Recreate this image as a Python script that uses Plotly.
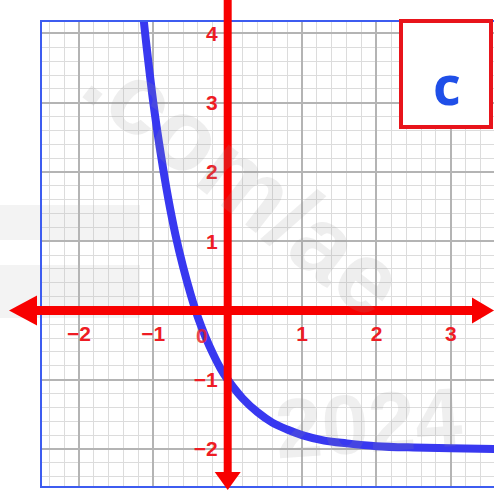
import plotly.graph_objects as go

# values
CURVE_X = [-1.2, -1.1, -1.0, -0.9, -0.8, -0.7, -0.6, -0.5, -0.4, -0.3, -0.2, -0.1, 0.0,
           0.2, 0.4, 0.6, 0.8, 1.0, 1.3, 1.6, 2.0, 2.5, 3.0, 3.6]
CURVE_Y = [4.9, 3.9, 3.0, 2.26, 1.62, 1.08, 0.63, 0.24, -0.1, -0.38, -0.62, -0.83, -1.0,
           -1.27, -1.47, -1.62, -1.72, -1.8, -1.88, -1.92, -1.96, -1.98, -1.99, -2.0]
X_TICKS = [-2, -1, 1, 2, 3]
Y_TICKS = [4, 3, 2, 1, -1, -2]
PANEL_LABEL = "c"

X_RANGE = [-2.51, 3.58]
Y_RANGE = [-2.55, 4.18]

W, H = 494, 490
M_L, M_R, M_T, M_B = 41, 0, 21, 3
PW = W - M_L - M_R
PH = H - M_T - M_B

RED = "#F80000"
LABEL_RED = "#EE1C24"
BLUE = "#3838F0"
FRAME_BLUE = "#3D5CF0"
FONT = "Liberation Sans, Arial, sans-serif"


def px_to_paper_x(px):
    return (px - M_L) / PW


def px_to_paper_y(py):
    return (H - M_B - py) / PH


def label(v):
    return str(v).replace("-", "\u2212")


fig = go.Figure()

fig.add_trace(
    go.Scatter(
        x=CURVE_X,
        y=CURVE_Y,
        mode="lines",
        line=dict(color=BLUE, width=8, shape="spline", smoothing=1),
        hoverinfo="skip",
    )
)

tickfont = dict(family=FONT, size=21, color=LABEL_RED, weight="bold")
grid = dict(
    showgrid=True,
    gridcolor="#B4B4B4",
    gridwidth=1.5,
    zeroline=False,
    showline=False,
    ticks="",
    tickfont=tickfont,
    minor=dict(dtick=0.2, tick0=0, showgrid=True, gridcolor="#DCDCDC", gridwidth=1),
)

fig.update_xaxes(
    range=X_RANGE,
    anchor="free",
    position=(0 - Y_RANGE[0]) / (Y_RANGE[1] - Y_RANGE[0]),
    tickmode="array",
    tickvals=X_TICKS,
    ticktext=[label(v) for v in X_TICKS],
    ticklabelstandoff=9,
    **grid,
)
fig.update_yaxes(
    range=Y_RANGE,
    anchor="free",
    position=(0 - X_RANGE[0]) / (X_RANGE[1] - X_RANGE[0]),
    tickmode="array",
    tickvals=Y_TICKS,
    ticktext=[label(v) for v in Y_TICKS],
    ticklabelstandoff=10,
    **grid,
)

shapes = []
# faint background bands on the left
for top, bot in ((205, 240), (265, 318)):
    shapes.append(dict(
        type="rect", xref="paper", yref="paper",
        x0=px_to_paper_x(0), x1=px_to_paper_x(140),
        y0=px_to_paper_y(bot), y1=px_to_paper_y(top),
        fillcolor="rgba(190,190,190,0.18)", line=dict(width=0), layer="above",
    ))
# blue frame (right edge is cut off)
shapes.append(dict(
    type="path", xref="paper", yref="paper",
    path="M 1,1 L 0,1 L 0,0 L 1,0",
    line=dict(color=FRAME_BLUE, width=2), layer="above",
))
# red axes with arrowheads
shapes.append(dict(
    type="line", xref="paper", yref="y",
    x0=px_to_paper_x(22), x1=px_to_paper_x(478), y0=0, y1=0,
    line=dict(color=RED, width=9), layer="above",
))
shapes.append(dict(
    type="path", xref="paper", yref="y",
    xsizemode="pixel", ysizemode="pixel",
    xanchor=px_to_paper_x(9), yanchor=0,
    path="M 0,0 L 28,15 L 28,-15 Z",
    fillcolor=RED, line=dict(width=0), layer="above",
))
shapes.append(dict(
    type="path", xref="paper", yref="y",
    xsizemode="pixel", ysizemode="pixel",
    xanchor=px_to_paper_x(494), yanchor=0,
    path="M 0,0 L -22,13 L -22,-13 Z",
    fillcolor=RED, line=dict(width=0), layer="above",
))
shapes.append(dict(
    type="line", xref="x", yref="paper",
    x0=0, x1=0, y0=px_to_paper_y(475), y1=px_to_paper_y(0),
    line=dict(color=RED, width=8), layer="above",
))
shapes.append(dict(
    type="path", xref="x", yref="paper",
    xsizemode="pixel", ysizemode="pixel",
    xanchor=0, yanchor=px_to_paper_y(490),
    path="M 0,0 L -13,18 L 13,18 Z",
    fillcolor=RED, line=dict(width=0), layer="above",
))
# panel label box
shapes.append(dict(
    type="rect", xref="paper", yref="paper",
    x0=px_to_paper_x(401), x1=px_to_paper_x(491),
    y0=px_to_paper_y(127), y1=px_to_paper_y(21),
    fillcolor="white", line=dict(color="#E8141B", width=4), layer="above",
))

center = dict(xanchor="center", yanchor="middle", showarrow=False)
annotations = [
    dict(
        x=0, y=0, xref="x", yref="y", text="0",
        xshift=-26, yshift=-25, font=tickfont, opacity=0.8, **center,
    ),
    dict(
        x=px_to_paper_x(447), y=px_to_paper_y(84), xref="paper", yref="paper",
        text=f"<b>{PANEL_LABEL}</b>",
        font=dict(family="Open Sans, sans-serif", size=54, color="#1F4FE8"), **center,
    ),
    # faint watermark
    dict(
        x=px_to_paper_x(245), y=px_to_paper_y(180), xref="paper", yref="paper",
        text="<b>.com/ae</b>", textangle=38,
        font=dict(family=FONT, size=100, color="rgba(150,150,150,0.16)"), **center,
    ),
    dict(
        x=px_to_paper_x(368), y=px_to_paper_y(423), xref="paper", yref="paper",
        text="<b>2024</b>", textangle=-4,
        font=dict(family=FONT, size=84, color="rgba(150,150,150,0.15)"), **center,
    ),
]

fig.update_layout(
    width=W,
    height=H,
    margin=dict(l=M_L, r=M_R, t=M_T, b=M_B),
    paper_bgcolor="white",
    plot_bgcolor="white",
    showlegend=False,
    shapes=shapes,
    annotations=annotations,
)

fig.write_html(
    "out.html",
    config={"displayModeBar": False},
    post_script="document.body.style.margin='0px';",
)
